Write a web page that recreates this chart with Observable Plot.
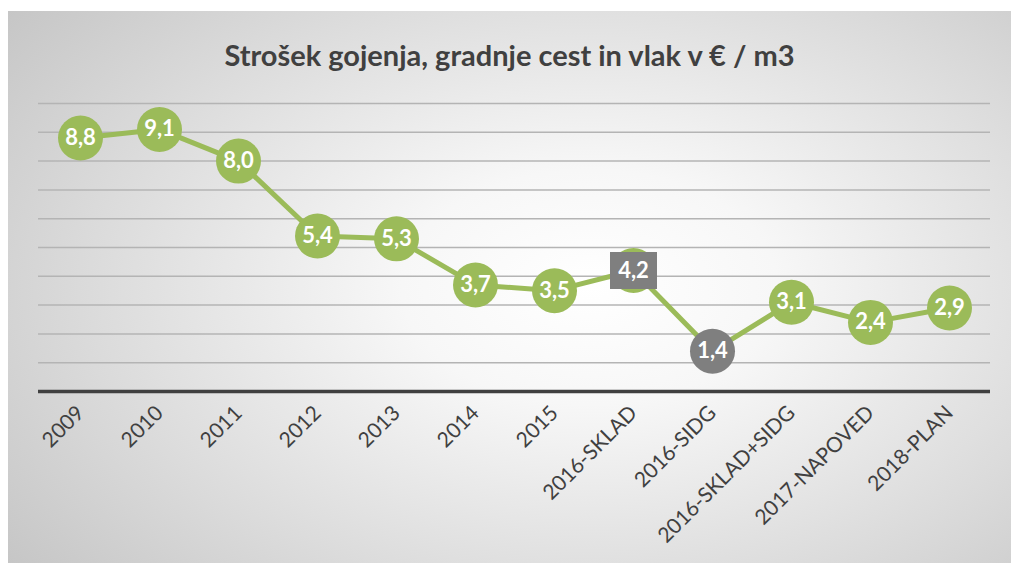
<!DOCTYPE html>
<html>
<head>
<meta charset="utf-8">
<script src="https://cdn.jsdelivr.net/npm/d3@7"></script>
<script src="https://cdn.jsdelivr.net/npm/@observablehq/plot@0.6"></script>
<style>
  html, body { margin: 0; padding: 0; background: #ffffff; }
  #chart {
    position: absolute; left: 8px; top: 11px; width: 1003px; height: 552px;
    background: radial-gradient(ellipse 75% 85% at 58% 50%, #ffffff 0%, #f7f7f7 25%, #dcdcdc 65%, #c4c4c4 100%);
    overflow: hidden;
  }
  #title {
    position: absolute; left: 0; top: 26px; width: 1003px; text-align: center;
    font-family: Lato, "Open Sans", sans-serif; font-weight: bold; font-size: 29px; color: #404040;
  }
  #plot { position: absolute; left: 0; top: 69px; }
</style>
</head>
<body>
<div id="chart">
  <div id="title">Strošek gojenja, gradnje cest in vlak v € / m3</div>
  <div id="plot"></div>
</div>
<script>
const categories = ["2009", "2010", "2011", "2012", "2013", "2014", "2015", "2016-SKLAD", "2016-SIDG", "2016-SKLAD+SIDG", "2017-NAPOVED", "2018-PLAN"];
const values = [8.8, 9.1, 8.0, 5.4, 5.3, 3.7, 3.5, 4.2, 1.4, 3.1, 2.4, 2.9];
const grayPointCategory = "2016-SIDG";
const boxedLabelCategory = "2016-SKLAD";
const yTicks = [1, 2, 3, 4, 5, 6, 7, 8, 9, 10];

const data = categories.map((c, i) => ({ cat: c, value: values[i] }));
const fmt = v => v.toFixed(1).replace(".", ",");

const GREEN = "#9bbb59";
const GRAY = "#7f7f7f";

const rectSymbol = {
  draw(context, size) {
    const w = 47, h = 37;
    context.rect(-w / 2, -h / 2, w, h);
  }
};

const chart = Plot.plot({
  width: 1003,
  height: 483,
  marginLeft: 30,
  marginRight: 21,
  marginTop: 23,
  marginBottom: 172,
  style: { background: "transparent", fontFamily: "Lato, 'Open Sans', sans-serif", color: "#404040" },
  x: { type: "point", domain: categories, padding: 0.5, label: null },
  y: { domain: [0, 10], axis: null },
  marks: [
    Plot.ruleY(yTicks, { stroke: "#b4b4b4", strokeWidth: 1.5 }),
    Plot.ruleY([0], { stroke: "#404040", strokeWidth: 3.5 }),
    Plot.axisX({ tickSize: 0, tickRotate: -45, tickPadding: 18, fontSize: 21, fill: "#404040", label: null }),
    Plot.line(data, { x: "cat", y: "value", stroke: GREEN, strokeWidth: 5 }),
    Plot.dot(data, { x: "cat", y: "value", r: 22.5, fill: d => d.cat === grayPointCategory ? GRAY : GREEN, stroke: null }),
    Plot.dot(data.filter(d => d.cat === boxedLabelCategory), { x: "cat", y: "value", symbol: rectSymbol, r: 20, fill: GRAY, stroke: null }),
    Plot.text(data, { x: "cat", y: "value", text: d => fmt(d.value), fill: "white", fontWeight: "bold", fontSize: 22 })
  ]
});
document.getElementById("plot").appendChild(chart);
</script>
</body>
</html>
